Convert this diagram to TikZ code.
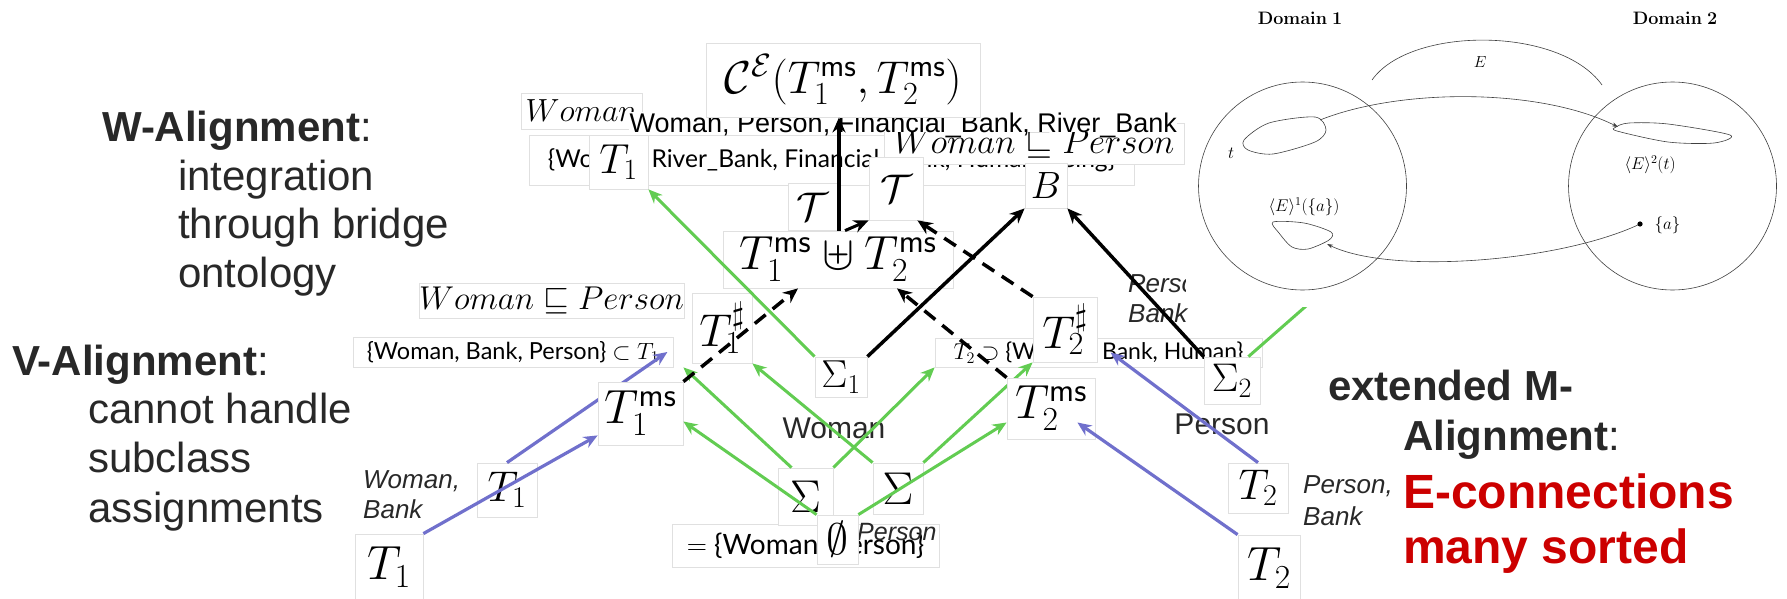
\RequirePackage{fix-cm}
\documentclass[tikz,border=0pt]{standalone}
\usepackage[no-math]{fontspec}
\setmainfont{Liberation Sans}
\newfontfamily\latofont{Lato}
\usetikzlibrary{arrows.meta}
\definecolor{arrgreen}{RGB}{98,204,82}
\definecolor{arrblue}{RGB}{112,112,204}
\definecolor{alertred}{RGB}{204,0,0}
\definecolor{slidegray}{RGB}{40,40,40}
\newcommand{\setfs}[1]{\fontsize{#1}{#1}\selectfont}

\begin{document}
\begin{tikzpicture}[x=1pt,y=-1pt,
  tile/.style={draw=black!12,line width=0.8pt,fill=white,inner sep=0pt},
  greenarr/.style={draw=arrgreen,line width=3pt,-{Stealth[length=14pt,width=12pt]}},
  bluearr/.style={draw=arrblue,line width=3.2pt,-{Stealth[length=14pt,width=12pt]}},
  blackarr/.style={line width=3.5pt,-{Stealth[length=15pt,width=13pt]}},
  dasharr/.style={blackarr,dash pattern=on 14pt off 9pt},
  slidetxt/.style={anchor=base west,inner sep=0pt,text=slidegray,font=\setfs{42}},
  alerttxt/.style={anchor=base west,inner sep=0pt,text=alertred,font=\bfseries\setfs{48}},
  tag/.style={anchor=base west,inner sep=0pt,text=slidegray,font=\itshape\setfs{26}},
  thinline/.style={draw=black!75,line width=0.6pt}]
\useasboundingbox (0,0) rectangle (1787,599);
\node[tile,minimum width=605pt,minimum height=50pt,font=\latofont\setfs{24.6}] (vocab) at (831.5,160) {\{Woman, River\_Bank, Financial\_Bank, Human\_Being\}};
\node[tile,minimum width=121pt,minimum height=36pt,font=\setfs{32}] (womanit) at (581.5,111) {$Woman$};
\node[tile,minimum width=300pt,minimum height=41pt,font=\setfs{35}] (bridgeax) at (1034,144) {$Woman\sqsubseteq Person$};
\node[anchor=base west,fill=white,inner sep=0.5pt,text depth=0pt,font=\setfs{27}] (sortlist) at (629,132) {Woman, Person, Financial\_Bank, River\_Bank};
\node[tile,minimum width=274pt,minimum height=74pt,font=\setfs{46}] (ce) at (843,80) {$\mathcal{C}^{\mathcal{E}}(T_1^{\mathsf{ms}},T_2^{\mathsf{ms}})$};
\node[tile,minimum width=59pt,minimum height=54pt,font=\setfs{42}] (t1top) at (618.5,162) {$T_1$};
\node[tile,minimum width=49pt,minimum height=47pt,font=\setfs{40}] (calTl) at (812.5,206.5) {$\mathcal{T}$};
\node[tile,minimum width=54pt,minimum height=63pt,font=\setfs{40}] (calTr) at (896,188.5) {$\mathcal{T}$};
\node[tile,minimum width=42pt,minimum height=45pt,font=\setfs{38}] (bridge) at (1046,185.5) {$B$};
\node[tile,minimum width=230pt,minimum height=57pt,font=\setfs{48}] (union) at (838,259.5) {$T_1^{\mathsf{ms}}\uplus T_2^{\mathsf{ms}}$};
\draw[blackarr] ([xshift=1pt]union.north) -- ([xshift=1pt]union.north |- ce.south);
\draw[blackarr,line width=3pt] ([xshift=7pt]union.north) -- (calTr.south west);

\node[inner sep=0pt,text=slidegray,font=\setfs{30}] (womanlbl) at (834,428) {Woman};
\node[inner sep=0pt,text=slidegray,font=\setfs{30}] (personlbl) at (1222,424) {Person};
\node[tag] (wbank1) at (363,488) {Woman,};
\node[tag] (wbank2) at (363,518) {Bank};
\node[tag] (pbank1) at (1303,493) {Person,};
\node[tag] (pbank2) at (1303,525) {Bank};
\node[tag] (pbank3) at (1128,292) {Person,};
\node[tag] (pbank4) at (1128,322) {Bank};

\node[tile,minimum width=263pt,minimum height=35pt,font=\setfs{33}] (subaxL) at (551.5,300.5) {$Woman\sqsubseteq Person$};
\node[tile,minimum width=320pt,minimum height=30pt,font=\latofont\setfs{23.5}] (subset) at (513,352) {\{Woman, Bank, Person\} $\subset T_1$};
\node[tile,minimum width=327pt,minimum height=29pt,font=\latofont\setfs{23}] (supset) at (1098.5,352.5) {$T_2\supset$ \{Woman, Bank, Human\}};
\node[tile,minimum width=60pt,minimum height=70pt,font=\setfs{46}] (t1sharp) at (722,328) {$T_1^\sharp$};
\node[tile,minimum width=64pt,minimum height=65pt,font=\setfs{46}] (t2sharp) at (1065,329.5) {$T_2^\sharp$};
\node[tile,minimum width=52pt,minimum height=40pt,font=\setfs{39}] (sigma1) at (841,377) {$\Sigma_1$};
\node[tile,minimum width=56pt,minimum height=47pt,font=\setfs{40}] (sigma2) at (1232,380.5) {$\Sigma_2$};
\node[tile,minimum width=60pt,minimum height=54pt,font=\setfs{43}] (t1small) at (507,490) {$T_1$};
\node[tile,minimum width=60pt,minimum height=50pt,font=\setfs{43}] (t2small) at (1258,488) {$T_2$};
\node[tile,minimum width=68pt,minimum height=66pt,font=\setfs{48}] (t1bot) at (389,567) {$T_1$};
\node[tile,minimum width=62pt,minimum height=66pt,font=\setfs{48}] (t2bot) at (1269,568) {$T_2$};

\node[tile,minimum width=267pt,minimum height=43pt,font=\latofont\setfs{28}] (eqset) at (805.5,545.5) {$=$ \{Woman, Person\}};
\node[tag,font=\itshape\setfs{25}] (personit) at (857,540) {Person};
\node[tile,minimum width=55pt,minimum height=57pt,font=\setfs{46}] (sigmaL) at (805.5,496.5) {$\Sigma$};
\node[tile,minimum width=50pt,minimum height=51pt,font=\setfs{46}] (sigmaR) at (898,488.5) {$\Sigma$};
\node[tile,minimum width=41pt,minimum height=49pt,font=\setfs{44}] (empty) at (837.5,539.5) {$\emptyset$};

\draw[bluearr] (t1small.north) -- ([xshift=-6pt]subset.east);
\draw[greenarr] (sigmaR.north east) -- (t2sharp.south west);
\node[tile,minimum width=85pt,minimum height=63pt,font=\setfs{48}] (t1ms) at (640.5,413.5) {$T_1^{\mathsf{ms}}$};
\node[tile,minimum width=88pt,minimum height=61pt,font=\setfs{48}] (t2ms) at (1051,408.5) {$T_2^{\mathsf{ms}}$};

\draw[greenarr] (sigma1.north west) -- (t1top.south east);
\draw[greenarr] ([xshift=-14pt]sigmaL.north) -- ([xshift=10pt]subset.south east);
\draw[greenarr] (sigmaR.north west) -- (t1sharp.south east);
\draw[greenarr] (empty.north west) -- ([yshift=-8pt]t1ms.east);
\draw[greenarr] (sigmaL.north east) -- (supset.south west);
\draw[greenarr] (empty.north east) -- ([yshift=-14pt]t2ms.west);
\draw[bluearr] (t1bot.north east) -- ([yshift=10pt]t1ms.south west);
\draw[bluearr] (t2bot.north west) -- ([xshift=-18pt,yshift=-14pt]t2ms.east);
\draw[bluearr] (t2small.north) -- ([xshift=12pt]supset.center);
\draw[blackarr] (sigma1.north east) -- (bridge.south west);
\draw[blackarr] (sigma2.north west) -- (bridge.south east);
\draw[dasharr] (t1ms.north east) -- ([xshift=-40pt]union.south);
\draw[dasharr] (t2ms.north west) -- ([xshift=59pt]union.south);
\draw[dasharr] (t2sharp.north west) -- ([xshift=-6pt]calTr.south east);
\coordinate (insetend) at (1370,250);
\draw[draw=arrgreen,line width=3pt] ([xshift=-12pt]sigma2.north east) -- (insetend);

\fill[white] (1186,0) rectangle (1787,307);
\node[font=\setfs{18}] (dom1) at (1300,18) {$\mathbf{Domain~1}$};
\node[font=\setfs{18}] (dom2) at (1675,18) {$\mathbf{Domain~2}$};
\draw[thinline] (1302.5,186) circle[radius=104pt];
\draw[thinline] (1672.5,186) circle[radius=104pt];
\draw[thinline] (1372,80) .. controls (1410,26) and (1560,26) .. (1602,85);
\node[font=\setfs{16}] (elbl) at (1480,62) {$E$};
\draw[thinline] plot[smooth cycle] coordinates {(1244,140) (1269,123) (1315,117) (1326,130) (1315,142) (1273,154) (1248,150)};
\draw[thinline] plot[smooth cycle] coordinates {(1616,127) (1629,123) (1668,124) (1730,135) (1714,143) (1668,142) (1617,131)};
\draw[thinline] plot[smooth cycle] coordinates {(1273,222) (1304,223) (1331,232) (1329,240) (1308,249) (1292,247) (1279,233)};
\coordinate (blobt) at (1320,120);
\coordinate (blobimg) at (1618,127);
\coordinate (pointa) at (1640,224);
\coordinate (blobpre) at (1327,244);
\draw[thinline,-{Stealth[length=6pt,width=4pt]}] (blobt) .. controls (1400,88) and (1540,88) .. (blobimg);
\draw[thinline,-{Stealth[length=6pt,width=4pt]}] (pointa) .. controls (1560,262) and (1390,275) .. (blobpre);
\fill (pointa) circle[radius=2.6pt];
\node[font=\setfs{17}] (tlbl) at (1231,153) {$t$};
\node[font=\setfs{17}] (imglbl) at (1650,165) {$\langle E\rangle^2(t)$};
\node[font=\setfs{17}] (prelbl) at (1304,207) {$\langle E\rangle^1(\{a\})$};
\node[anchor=west,font=\setfs{17}] (alabel) at (1651,225) {$\{a\}$};

\node[slidetxt] (walign) at (102,142) {\textbf{W-Alignment}:};
\node[slidetxt] (wline1) at (178,190) {integration};
\node[slidetxt] (wline2) at (178,238) {through bridge};
\node[slidetxt] (wline3) at (178,287) {ontology};
\node[slidetxt] (valign) at (12,375) {\textbf{V-Alignment}:};
\node[slidetxt] (vline1) at (88,423) {cannot handle};
\node[slidetxt] (vline2) at (88,472) {subclass};
\node[slidetxt] (vline3) at (88,522) {assignments};
\node[slidetxt] (malign1) at (1328,400) {\textbf{extended M-}};
\node[slidetxt] (malign2) at (1403,450) {\textbf{Alignment}:};
\node[alerttxt] (mline1) at (1403,508) {E-connections};
\node[alerttxt] (mline2) at (1403,563) {many sorted};
\end{tikzpicture}
\end{document}
